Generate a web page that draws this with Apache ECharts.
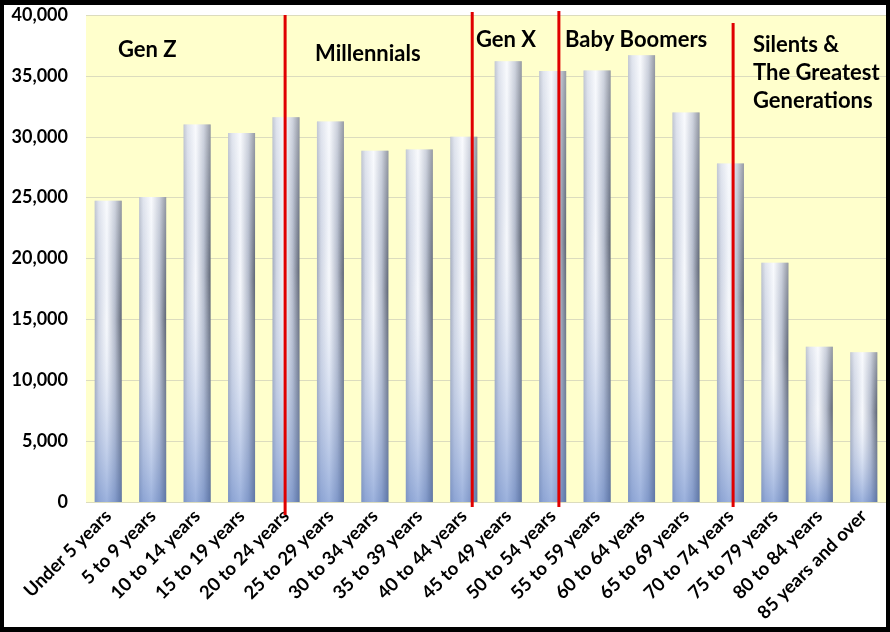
<!DOCTYPE html>
<html><head><meta charset="utf-8">
<script src="https://cdn.jsdelivr.net/npm/echarts@6/dist/echarts.min.js"></script>
<style>
html,body{margin:0;padding:0;background:#000;}
#wrap{position:relative;width:890px;height:632px;background:#000;}
#chart{position:absolute;left:4px;top:5px;width:882px;height:622px;background:#fff;}
</style></head>
<body><div id="wrap"><div id="chart"></div></div>
<script>
const categories = ["Under 5 years","5 to 9 years","10 to 14 years","15 to 19 years","20 to 24 years","25 to 29 years","30 to 34 years","35 to 39 years","40 to 44 years","45 to 49 years","50 to 54 years","55 to 59 years","60 to 64 years","65 to 69 years","70 to 74 years","75 to 79 years","80 to 84 years","85 years and over"];
const population = [24750, 25050, 31000, 30300, 31600, 31250, 28850, 28950, 30000, 36200, 35400, 35450, 36700, 32000, 27800, 19650, 12750, 12300];
const yTicks = [0, 5000, 10000, 15000, 20000, 25000, 30000, 35000, 40000];
// divider lines: position on category scale (0..18) and vertical extent in data units
const dividerX = [4.48, 8.69, 10.64, 14.56];
const dividerTop = [40000, 40250, 40330, 39340];
const dividerBottom = [-1070, -410, -410, -410];
const generationLabels = ["Gen Z", "Millennials", "Gen X", "Baby Boomers", "Silents &\nThe Greatest\nGenerations"];

const chart = echarts.init(document.getElementById('chart'));
const FONT = 'Lato';
const dividerSeries = dividerX.map((x, i) => ({
  type: 'line', xAxisIndex: 1, yAxisIndex: 0, clip: false, silent: true, symbol: 'none',
  z: 10, lineStyle: { color: '#e00000', width: 3 },
  data: [[x, dividerBottom[i]], [x, dividerTop[i]]]
}));
const labelPos = [[114, 31], [311, 35], [472, 21], [561, 21], [749, 26]];
chart.setOption({
  animation: false,
  grid: { left: 82, top: 10, right: 0, bottom: 125, show: true, backgroundColor: '#ffffcc', borderWidth: 0 },
  xAxis: [{
    type: 'category', data: categories,
    axisLine: { show: false }, axisTick: { show: false },
    axisLabel: { rotate: 45, interval: 0, color: '#000', fontFamily: FONT, fontWeight: 'bold', fontSize: 18.5, margin: 11 }
  }, {
    type: 'value', min: 0, max: 18, show: false
  }],
  yAxis: {
    type: 'value', min: 0, max: 40000, interval: 5000,
    axisLine: { show: false }, axisTick: { show: false },
    splitLine: { lineStyle: { color: '#dcdcbe', width: 1 } },
    axisLabel: { color: '#000', fontFamily: FONT, fontWeight: 'bold', fontSize: 18, margin: 18,
      formatter: v => yTicks.includes(v) ? v.toLocaleString('en-US') : '' }
  },
  series: [{
    type: 'bar', data: population, barWidth: 27, silent: true,
    itemStyle: { color: new echarts.graphic.LinearGradient(0, 0, 1, 0, [
      { offset: 0, color: '#a3abbd' }, { offset: 0.15, color: '#d0d6e4' },
      { offset: 0.45, color: '#f6f8fc' }, { offset: 0.75, color: '#b4bbcb' },
      { offset: 1, color: '#5e6574' }]) }
  }, {
    type: 'bar', data: population, barWidth: 27, barGap: '-100%', silent: true,
    itemStyle: { color: new echarts.graphic.LinearGradient(0, 0, 0, 1, [
      { offset: 0, color: 'rgba(255,255,255,0.35)' }, { offset: 0.4, color: 'rgba(210,220,240,0)' },
      { offset: 1, color: 'rgba(95,130,200,0.6)' }]) }
  }].concat(dividerSeries),
  graphic: generationLabels.map((t, i) => ({
    type: 'text', left: labelPos[i][0], top: labelPos[i][1], z: 20,
    style: { text: t, font: 'bold 22px Lato', fill: '#000', lineHeight: 28 }
  }))
});
</script></body></html>
